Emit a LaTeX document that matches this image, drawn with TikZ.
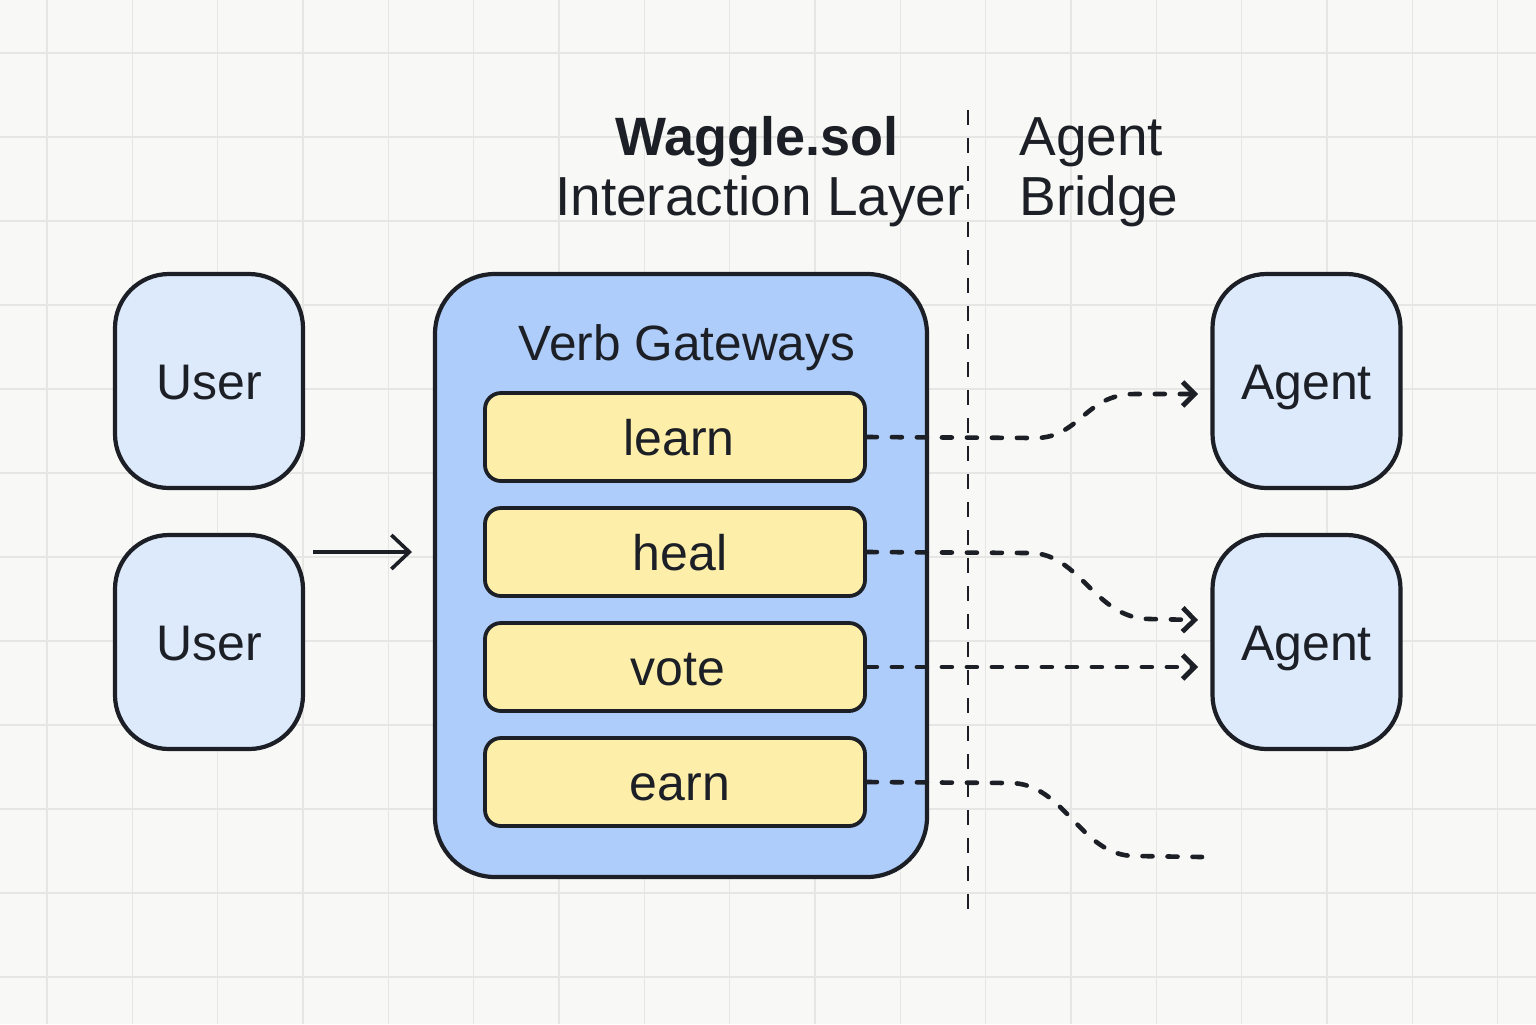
\documentclass[tikz,border=0pt]{standalone}
\usepackage{fontspec}
\setmainfont{Liberation Sans}
\usetikzlibrary{arrows.meta,calc}
\definecolor{bgc}{HTML}{F8F8F6}
\definecolor{gridc}{HTML}{E6E6E4}
\definecolor{ink}{HTML}{1C2026}
\definecolor{lightblue}{HTML}{DDEAFC}
\definecolor{midblue}{HTML}{AECDFA}
\definecolor{paleyellow}{HTML}{FDEEA9}
\tikzset{
  gridline/.style={draw=gridc, line width=0.75pt},
  actor/.style={draw=ink, line width=2.1pt, fill=lightblue, rounded corners=27pt,
    minimum width=94pt, minimum height=107pt, inner sep=0pt,
    font=\fontsize{25pt}{30pt}\selectfont, text=ink, text height=18pt, text depth=0pt},
  container/.style={draw=ink, line width=2.1pt, fill=midblue, rounded corners=30pt,
    minimum width=246pt, minimum height=301.5pt, inner sep=0pt},
  verb/.style={draw=ink, line width=1.9pt, fill=paleyellow, rounded corners=8pt,
    minimum width=190pt, minimum height=44pt, inner sep=0pt},
  verbtext/.style={font=\fontsize{25pt}{30pt}\selectfont, text=ink, inner sep=0pt, anchor=base},
  title/.style={font=\fontsize{27.5pt}{33pt}\selectfont, text=ink, inner sep=0pt},
  flow/.style={draw=ink, line width=2.3pt, line cap=round, dash pattern=on 5pt off 7.5pt,
    -{Straight Barb[length=6pt,width=12pt,line width=2.4pt]}},
  flowplain/.style={draw=ink, line width=2.3pt, line cap=round, dash pattern=on 5pt off 7.5pt},
  divider/.style={draw=ink, line width=1.2pt, dash pattern=on 7.5pt off 6.5pt},
  push/.style={draw=ink, line width=1.6pt, -{Straight Barb[length=9pt,width=17pt,line width=1.8pt]}}
}
\begin{document}
\begin{tikzpicture}[x=0.5pt,y=-0.5pt]
\fill[bgc] (0,0) rectangle (1536,1024);
\useasboundingbox (0,0) rectangle (1536,1024);
\foreach \i in {0,...,17} \draw[gridline] ({47+85.33*\i},0) -- ({47+85.33*\i},1024);
\foreach \j in {0,...,11} \draw[gridline] (0,{53+84*\j}) -- (1536,{53+84*\j});

% titles
\node[title, anchor=base, font=\fontsize{27pt}{33pt}\selectfont\bfseries] (t1) at (757,155) {Waggle.sol};
\node[title, anchor=base] (t2) at (760,215) {Interaction Layer};
\node[title, anchor=base west] (t3) at (1019,155) {Agent};
\node[title, anchor=base west] (t4) at (1019,215) {Bridge};

% divider
\coordinate (dtop) at (968,110);
\coordinate (dbot) at (968,920);
\draw[divider] (dtop) -- (dbot);

% users and agents
\node[actor] (u1) at (209,381) {User};
\node[actor] (u2) at (209,642) {User};
\node[actor] (a1) at (1306.5,381) {Agent};
\node[actor] (a2) at (1306.5,642) {Agent};

% container
\node[container] (gw) at (681,575.5) {};
\node[anchor=base, font=\fontsize{24.8pt}{30pt}\selectfont, text=ink, inner sep=0pt] (gwl) at (687,360) {Verb Gateways};
\node[verb] (learn) at (675,437) {};
\node[verb] (heal) at (675,552) {};
\node[verb] (vote) at (675,667) {};
\node[verb] (earn) at (675,782) {};
\node[verbtext] (learnt) at (679,455) {learn};
\node[verbtext] (healt) at (680,570) {heal};
\node[verbtext] (votet) at (678,685) {vote};
\node[verbtext] (earnt) at (680,800) {earn};

% user arrow
\coordinate (us) at (313,552);
\coordinate (ue) at (412,552);
\draw[push] (us) -- (ue);

% flows
\coordinate (l1) at (1035,438);
\coordinate (l2) at (1135,394);
\coordinate (lend) at (1198,394);
\draw[flow] (learn.east) -- (l1) .. controls (1080,438) and (1085,394) .. (l2) -- (lend);

\coordinate (h1) at (1030,553);
\coordinate (h2) at (1150,619);
\coordinate (hend) at (1198,620);
\draw[flow] (heal.east) -- (h1) .. controls (1080,553) and (1095,619) .. (h2) -- (hend);

\coordinate (vend) at (1198,667);
\draw[flow] (vote.east) -- (vend);

\coordinate (e1) at (1010,783);
\coordinate (e2) at (1135,856);
\coordinate (eend) at (1202,857);
\draw[flowplain] (earn.east) -- (e1) .. controls (1065,783) and (1080,856) .. (e2) -- (eend);
\end{tikzpicture}
\end{document}
